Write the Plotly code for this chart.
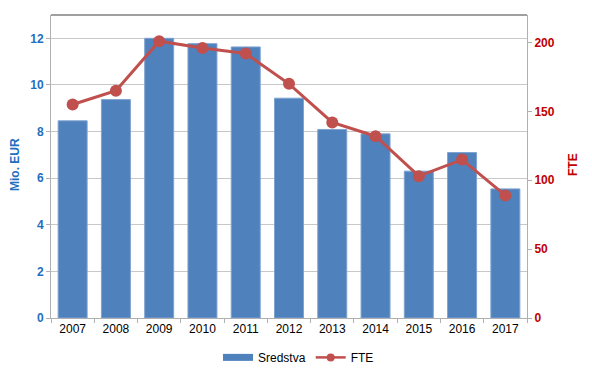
import plotly.graph_objects as go

years = ["2007", "2008", "2009", "2010", "2011", "2012", "2013", "2014", "2015", "2016", "2017"]
sredstva = [8.46, 9.37, 12.0, 11.77, 11.63, 9.43, 8.09, 7.9, 6.3, 7.1, 5.54]
fte = [155, 165, 201, 196, 192, 170, 142, 132, 103, 115, 89]

blue_txt = "#1f6fc0"
red_txt = "#c00000"
bar_col = "#4f81bd"
line_col = "#c0504d"
font = "Liberation Sans, Arial, sans-serif"

W, H = 592, 377
L, R, T, B = 51, 65, 15, 59

fig = go.Figure()
fig.add_trace(go.Bar(x=years, y=sredstva, name="Sredstva", showlegend=False,
                     marker=dict(color=bar_col, line=dict(color="#7fa3d0", width=1)), yaxis="y"))
fig.add_trace(go.Scatter(x=years, y=fte, name="FTE", mode="lines+markers", showlegend=False,
                         line=dict(color=line_col, width=3), marker=dict(color=line_col, size=12), yaxis="y2"))
# legend-only proxies (Excel-style legend symbols)
fig.add_trace(go.Scatter(x=[None], y=[None], name="Sredstva", mode="lines",
                         line=dict(color=bar_col, width=7), yaxis="y"))
fig.add_trace(go.Scatter(x=[None], y=[None], name="FTE", mode="lines+markers",
                         line=dict(color=line_col, width=2.5), marker=dict(color=line_col, size=8), yaxis="y2"))

fig.update_layout(
    width=W, height=H,
    margin=dict(l=L, r=R, t=T, b=B, autoexpand=False),
    paper_bgcolor="white", plot_bgcolor="white",
    font=dict(family=font, size=12, color="black"),
    bargap=0.33,
    showlegend=True,
    legend=dict(orientation="h", x=0.52, xanchor="center", y=-0.13, yanchor="middle",
                font=dict(size=12, color="black"), traceorder="normal", itemwidth=30),
    xaxis=dict(type="category", range=[-0.5, len(years) - 0.5], showline=True, linecolor="#b0b0b0",
               linewidth=1, automargin=False,
               ticks="outside", tickson="boundaries", ticklen=4, tickcolor="#b0b0b0",
               tickfont=dict(size=12, color="black"), showgrid=False),
    yaxis=dict(range=[0, 13], tickvals=[0, 2, 4, 6, 8, 10, 12], showgrid=True, gridcolor="#c8c8c8",
               gridwidth=1, showline=True, linecolor="#b0b0b0", ticks="outside", ticklen=4, tickcolor="#b0b0b0",
               tickfont=dict(size=12, color=blue_txt, weight="bold"), zeroline=False, automargin=False),
    yaxis2=dict(range=[0, 220], tickvals=[0, 50, 100, 150, 200], overlaying="y", side="right", showgrid=False,
                showline=True, linecolor="#b0b0b0", ticks="outside", ticklen=4, tickcolor="#b0b0b0",
                tickfont=dict(size=12, color=red_txt, weight="bold"), zeroline=False, automargin=False),
)
fig.add_shape(type="line", xref="paper", yref="paper", x0=0, x1=1, y0=1, y1=1,
              line=dict(color="#808080", width=1.5))

plot_h = H - T - B
plot_w = W - L - R
fig.add_annotation(text="<b>Mio. EUR</b>", textangle=-90, xref="paper", yref="paper",
                   x=(15 - L) / plot_w, y=(H - B - 165) / plot_h, showarrow=False,
                   xanchor="center", yanchor="middle", font=dict(size=12, color=blue_txt))
fig.add_annotation(text="<b>FTE</b>", textangle=-90, xref="paper", yref="paper",
                   x=(573 - L) / plot_w, y=(H - B - 165) / plot_h, showarrow=False,
                   xanchor="center", yanchor="middle", font=dict(size=12, color=red_txt))

fig.write_html("out.html", config={"displayModeBar": False},
               post_script="document.body.style.margin='0px';")
